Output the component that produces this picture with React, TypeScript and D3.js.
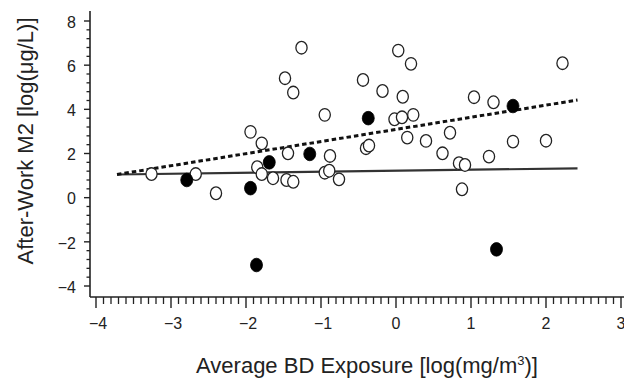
import React from "react";
import * as d3 from "d3";

const W = 624;
const H = 379;

// Open circles: subjects
const openX = [-3.26, -2.67, -2.40, -1.94, -1.79, -1.85, -1.79, -1.64, -1.48, -1.37, -1.26, -1.44, -1.46, -1.37, 0.03, 0.20, 2.22, -0.44, -0.18, 0.09, 1.04, 1.30, -0.95, -0.02, 0.08, 0.23, 0.72, 0.15, 0.40, 1.56, 2.00, -0.40, -0.36, -0.88, 0.62, 1.24, 0.84, 0.92, -0.95, -0.89, -0.76, 0.88];
const openY = [1.07, 1.07, 0.20, 2.98, 2.46, 1.38, 1.07, 0.88, 5.41, 4.76, 6.79, 2.01, 0.80, 0.72, 6.66, 6.06, 6.09, 5.33, 4.83, 4.57, 4.55, 4.32, 3.75, 3.55, 3.64, 3.75, 2.94, 2.72, 2.57, 2.54, 2.58, 2.24, 2.36, 1.89, 2.01, 1.86, 1.56, 1.48, 1.13, 1.22, 0.83, 0.38];

// Filled circles
const filledX = [-2.79, -1.94, -1.69, -1.15, -0.37, 1.56, -1.86, 1.34];
const filledY = [0.80, 0.43, 1.60, 1.98, 3.60, 4.15, -3.05, -2.34];

// Regression lines (endpoints)
const solidLineX = [-3.72, 2.42];
const solidLineY = [1.05, 1.33];
const dashedLineX = [-3.72, 2.42];
const dashedLineY = [1.05, 4.42];

const xMajorTicks = [-4, -3, -2, -1, 0, 1, 2, 3];
const yMajorTicks = [-4, -2, 0, 2, 4, 6, 8];

const xTitle = "Average BD Exposure [log(mg/m";
const yTitle = "After-Work M2 [log(μg/L)]";

const FONT = "'Liberation Sans', Arial, Helvetica, sans-serif";
const INK = "#222";

const fmt = (t: number) => (t < 0 ? "\u2212" + Math.abs(t) : String(t));

export default function App() {
  const x = d3.scaleLinear().domain([-4, 3]).range([96, 621]);
  const y = d3.scaleLinear().domain([-4, 8]).range([286, 21]);

  const axisX = 90;
  const axisY = 297;

  const xMinor = d3.range(-40, 31).map((d) => d / 10).filter((d) => !xMajorTicks.some((m) => Math.abs(m - d) < 1e-9));
  const yMinor = d3.range(-10, 21).map((d) => d * 0.4).filter((d) => !yMajorTicks.some((m) => Math.abs(m - d) < 1e-9));

  const line = d3.line<[number, number]>().x((d) => x(d[0])).y((d) => y(d[1]));
  const solid = line(solidLineX.map((v, i) => [v, solidLineY[i]]));
  const dashed = line(dashedLineX.map((v, i) => [v, dashedLineY[i]]));

  return (
    <div style={{ position: "absolute", left: 0, top: 0 }}>
      <svg width={W} height={H} style={{ display: "block", background: "#fff" }}>
        {/* axes */}
        <line x1={axisX} x2={axisX} y1={y(8.45)} y2={axisY} stroke={INK} strokeWidth={1.6} />
        <line x1={axisX} x2={W} y1={axisY} y2={axisY} stroke={INK} strokeWidth={1.6} />

        {/* y ticks */}
        {yMinor.map((t) => (
          <line key={"ym" + t} x1={axisX - 3.5} x2={axisX} y1={y(t)} y2={y(t)} stroke={INK} strokeWidth={1.3} />
        ))}
        {yMajorTicks.map((t) => (
          <g key={"y" + t}>
            <line x1={axisX - 6} x2={axisX} y1={y(t)} y2={y(t)} stroke={INK} strokeWidth={1.4} />
            <text x={76} y={y(t) + 6.7} textAnchor="end" fontFamily={FONT} fontSize={16} fill={INK}>
              {fmt(t)}
            </text>
          </g>
        ))}

        {/* x ticks */}
        {xMinor.map((t) => (
          <line key={"xm" + t} x1={x(t)} x2={x(t)} y1={axisY} y2={axisY + 7} stroke={INK} strokeWidth={1.3} />
        ))}
        {xMajorTicks.map((t) => (
          <g key={"x" + t}>
            <line x1={x(t)} x2={x(t)} y1={axisY} y2={axisY + 11} stroke={INK} strokeWidth={1.4} />
            <text x={x(t) + (t < 0 ? 2 : 0)} y={328.5} textAnchor="middle" fontFamily={FONT} fontSize={16} fill={INK}>
              {fmt(t)}
            </text>
          </g>
        ))}

        {/* regression lines */}
        <path d={solid ?? ""} fill="none" stroke="#333" strokeWidth={2.2} />
        <path d={dashed ?? ""} fill="none" stroke="#111" strokeWidth={3} strokeDasharray="4.5 3" />

        {/* points */}
        {openX.map((v, i) => (
          <ellipse key={"o" + i} cx={x(v)} cy={y(openY[i])} rx={5.6} ry={6.3} fill="#fff" stroke={INK} strokeWidth={1.3} />
        ))}
        {filledX.map((v, i) => (
          <ellipse key={"f" + i} cx={x(v)} cy={y(filledY[i])} rx={6} ry={6.8} fill="#000" stroke="#000" strokeWidth={0.8} />
        ))}

        {/* titles */}
        <text x={367} y={373} textAnchor="middle" fontFamily={FONT} fontSize={22} fill={INK}>
          {xTitle}
          <tspan fontSize={13} dy={-8}>3</tspan>
          <tspan dy={8}>)]</tspan>
        </text>
        <text
          transform={`translate(33, 141) rotate(-90)`}
          textAnchor="middle"
          fontFamily={FONT}
          fontSize={22}
          fill={INK}
        >
          {yTitle}
        </text>
      </svg>
    </div>
  );
}
